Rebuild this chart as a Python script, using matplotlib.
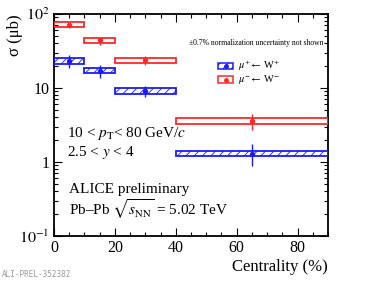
import matplotlib
matplotlib.use("Agg")
import matplotlib.pyplot as plt
from matplotlib.patches import Rectangle
from matplotlib.ticker import MultipleLocator

plt.rcParams['font.family'] = ['Liberation Serif', 'DejaVu Serif']
plt.rcParams['mathtext.fontset'] = 'stix'
plt.rcParams['hatch.linewidth'] = 0.6

# Data
cent_low = [0, 10, 20, 40]
cent_high = [10, 20, 40, 90]
cent_mid = [5, 15, 30, 65]
wplus = [23.2, 17.1, 9.1, 1.3]
wplus_stat = [0.20, 0.19, 0.16, 0.33]
wplus_sys = [0.09, 0.08, 0.09, 0.07]
wminus = [72.0, 44.0, 23.7, 3.6]
wminus_stat = [0.10, 0.12, 0.14, 0.24]
wminus_sys = [0.08, 0.08, 0.08, 0.10]

blue = '#1a1aff'
red = '#ff2828'

fig = plt.figure(figsize=(3.86, 2.82), dpi=100)
ax = fig.add_axes([0.1399, 0.1631, 0.7098, 0.7872])
ax.set_yscale('log')
ax.set_xlim(0, 90)
ax.set_ylim(0.1, 100)

def draw(vals, stat, sys, color, hatch):
    for lo, hi, mid, v, st, sy in zip(cent_low, cent_high, cent_mid, vals, stat, sys):
        r = Rectangle((lo, v * (1 - sy)), hi - lo, v * 2 * sy, facecolor='none',
                      edgecolor=color, lw=1.3, hatch=hatch, zorder=3)
        ax.add_patch(r)
    ax.errorbar(cent_mid, vals, yerr=[[v * s for v, s in zip(vals, stat)],
                                      [v * s for v, s in zip(vals, stat)]],
                fmt='o', color=color, ms=2.8, elinewidth=1.0, capsize=0, zorder=4)

draw(wplus, wplus_stat, wplus_sys, blue, '////')
draw(wminus, wminus_stat, wminus_sys, red, None)

# ticks
ax.xaxis.set_major_locator(MultipleLocator(20))
ax.xaxis.set_minor_locator(MultipleLocator(5))
ax.tick_params(which='both', direction='in', top=True, right=True, width=0.8,
               labelsize=11.5, pad=3)
ax.tick_params(which='major', length=6)
ax.tick_params(which='minor', length=3)
ax.set_yticks([0.1, 1, 10, 100])
ax.set_yticklabels([r'$10^{-1}$', '1', '10', r'$10^{2}$'])
for s in ax.spines.values():
    s.set_linewidth(1.3)

ax.set_ylabel('σ (μb)', fontsize=12, loc='top')
ax.yaxis.set_label_coords(-0.112, 1.0)
ax.set_xlabel('Centrality (%)', fontsize=12, loc='right', labelpad=2)

# texts
ax.text(0.049, 0.46, r'10 < $p_{\mathrm{T}}$< 80 GeV/$c$', transform=ax.transAxes,
        fontsize=11, va='center', ha='left')
ax.text(0.049, 0.375, r'2.5 < $y$ < 4', transform=ax.transAxes,
        fontsize=11, va='center', ha='left')
ax.text(0.055, 0.21, 'ALICE preliminary', transform=ax.transAxes,
        fontsize=11, va='center', ha='left')
ax.text(0.055, 0.12, r'Pb–Pb $\sqrt{s_{\mathrm{NN}}}$ = 5.02 TeV', transform=ax.transAxes,
        fontsize=11, va='center', ha='left')
ax.text(0.985, 0.87, '±0.7% normalization uncertainty not shown', transform=ax.transAxes,
        fontsize=5.5, va='center', ha='right')

# legend (manual)
for yc, col, hatch, lab in [(0.765, blue, '////', r'$\mu^{+}\!\leftarrow$ W$^{+}$'),
                            (0.705, red, None, r'$\mu^{-}\!\leftarrow$ W$^{-}$')]:
    ax.add_patch(Rectangle((0.598, yc - 0.014), 0.055, 0.028, transform=ax.transAxes,
                           facecolor='none', edgecolor=col, lw=1.1, hatch=hatch, zorder=5))
    ax.plot([0.626], [yc], 'o', color=col, ms=2.5, transform=ax.transAxes, zorder=6)
    ax.text(0.67, yc, lab, transform=ax.transAxes, fontsize=7.5, va='center', ha='left')

fig.text(0.005, 0.025, 'ALI-PREL-352382', fontsize=5.5, color='#999999',
         family='DejaVu Sans Mono', va='center', ha='left')

fig.savefig('out.png', dpi=100)
